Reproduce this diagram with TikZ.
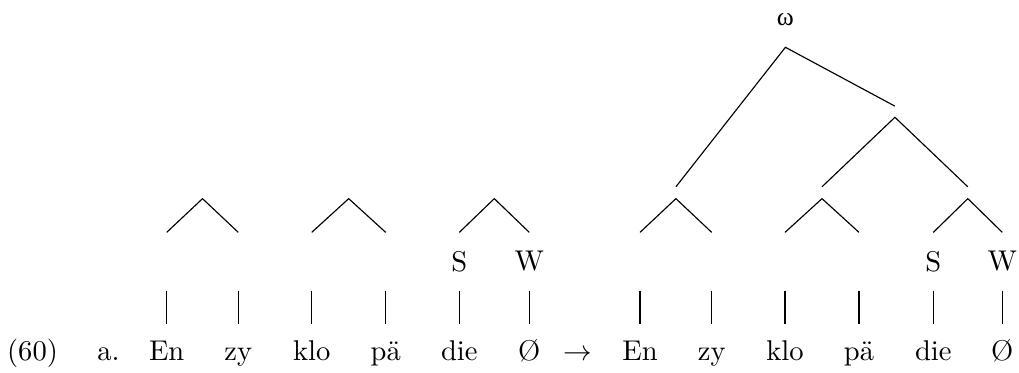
\documentclass[tikz,border=0pt]{standalone}
\usepackage{fontspec}
\newfontfamily\greekfont{Liberation Serif}
\usepackage{tikz}
\tikzset{
    syllable/.style={
        anchor=north,
        inner sep=0pt,
        text height=12.6pt,
        text depth=0pt
    }
}
\tikzset{
    metrical/.style={
        inner sep=0pt,
        minimum height=20pt
    }
}
\tikzset{
    foot/.style={
        inner sep=0pt,
        minimum height=3.75pt
    }
}
\tikzset{
    word/.style={
        inner sep=0pt,
        minimum height=18.7pt,
        font=\greekfont\small
    }
}
\tikzset{
    branch/.style={
        draw=black,
        line width=0.4pt
    }
}

\begin{document}
\begin{tikzpicture}[
    x=0.35pt,
    y=-0.35pt
]
\useasboundingbox (0,0) rectangle (1019,372);

\node[syllable] (ex) at (32.5,324) {(60)};
\node[syllable] (item) at (108.5,324) {a.};
\node[syllable] (arrow) at (578,324) {$\rightarrow$};

\node[syllable] (sa1) at (166.7,324) {En};
\node[syllable] (sa2) at (238.3,324) {zy};
\node[syllable] (sa3) at (311.7,324) {klo};
\node[syllable] (sa4) at (385.7,324) {pä};
\node[syllable] (sa5) at (459.3,324) {die};
\node[syllable] (sa6) at (529.3,324) {Ø};

\node[syllable] (sb1) at (640,324) {En};
\node[syllable] (sb2) at (711.7,324) {zy};
\node[syllable] (sb3) at (785,324) {klo};
\node[syllable] (sb4) at (859,324) {pä};
\node[syllable] (sb5) at (933.3,324) {die};
\node[syllable] (sb6) at (1002.3,324) {Ø};

\node[metrical] (ma1) at (166.7,261.5) {};
\node[metrical] (ma2) at (238.3,261.5) {};
\node[metrical] (ma3) at (311.7,261.5) {};
\node[metrical] (ma4) at (385.7,261.5) {};
\node[metrical] (ma5) at (459.3,261.5) {S};
\node[metrical] (ma6) at (529.3,261.5) {W};

\node[metrical] (mb1) at (640,261.5) {};
\node[metrical] (mb2) at (711.7,261.5) {};
\node[metrical] (mb3) at (785,261.5) {};
\node[metrical] (mb4) at (859,261.5) {};
\node[metrical] (mb5) at (933.3,261.5) {S};
\node[metrical] (mb6) at (1002.3,261.5) {W};

\node[foot] (fa1) at (202.5,192.7) {};
\node[foot] (fa2) at (348.7,192.7) {};
\node[foot] (fa3) at (494.3,192.7) {};

\node[foot] (fb1) at (675.9,192.7) {};
\node[foot] (fb2) at (822,192.7) {};
\node[foot] (fb3) at (967.8,192.7) {};

\node[foot, minimum height=3.5pt] (mid) at (894.9,111.7) {};
\node[word] (omega) at (785.4,20) {ω};

\draw[branch] (ma1.south) -- (sa1.north);
\draw[branch] (ma2.south) -- (sa2.north);
\draw[branch] (ma3.south) -- (sa3.north);
\draw[branch] (ma4.south) -- (sa4.north);
\draw[branch] (ma5.south) -- (sa5.north);
\draw[branch] (ma6.south) -- (sa6.north);

\draw[branch] (mb1.south) -- (sb1.north);
\draw[branch] (mb2.south) -- (sb2.north);
\draw[branch] (mb3.south) -- (sb3.north);
\draw[branch] (mb4.south) -- (sb4.north);
\draw[branch] (mb5.south) -- (sb5.north);
\draw[branch] (mb6.south) -- (sb6.north);

\draw[branch] (ma1.north) -- (fa1.south) -- (ma2.north);
\draw[branch] (ma3.north) -- (fa2.south) -- (ma4.north);
\draw[branch] (ma5.north) -- (fa3.south) -- (ma6.north);

\draw[branch] (mb1.north) -- (fb1.south) -- (mb2.north);
\draw[branch] (mb3.north) -- (fb2.south) -- (mb4.north);
\draw[branch] (mb5.north) -- (fb3.south) -- (mb6.north);

\draw[branch] (fb2.north) -- (mid.south) -- (fb3.north);
\draw[branch] (fb1.north) -- (omega.south) -- (mid.north);

\end{tikzpicture}
\end{document}
